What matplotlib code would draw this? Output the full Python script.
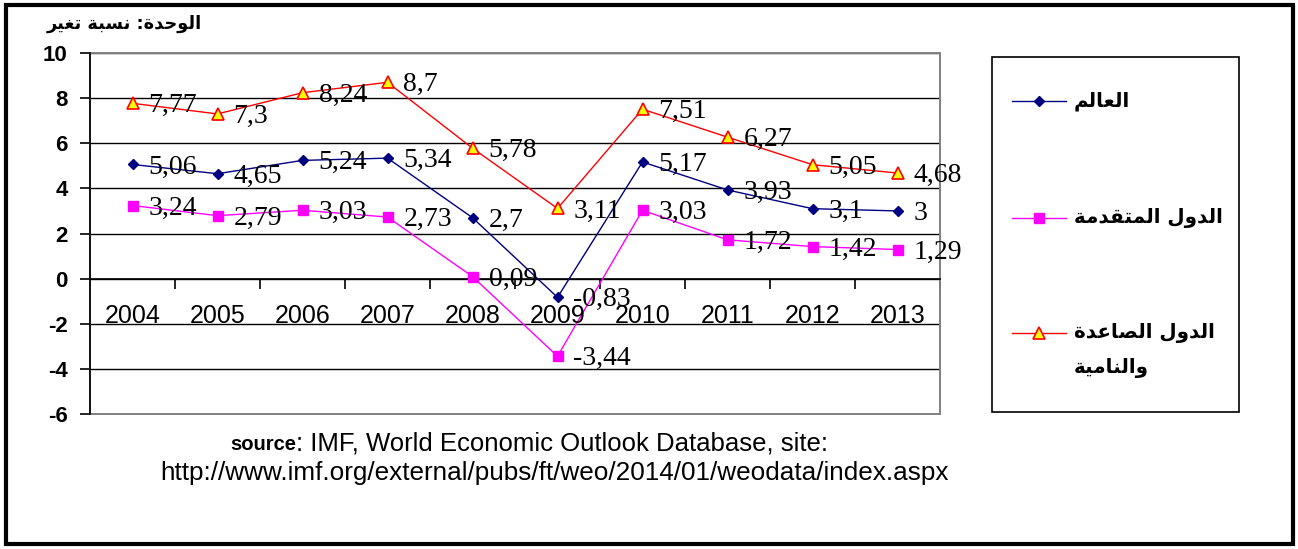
import numpy as np
import matplotlib
matplotlib.use("Agg")
import matplotlib.pyplot as plt
from matplotlib.patches import Rectangle
from matplotlib.lines import Line2D

# ---- data -------------------------------------------------------------
years = ["2004", "2005", "2006", "2007", "2008", "2009", "2010", "2011", "2012", "2013"]
world = [5.06, 4.65, 5.24, 5.34, 2.7, -0.83, 5.17, 3.93, 3.1, 3]
advanced = [3.24, 2.79, 3.03, 2.73, 0.09, -3.44, 3.03, 1.72, 1.42, 1.29]
emerging = [7.77, 7.3, 8.24, 8.7, 5.78, 3.11, 7.51, 6.27, 5.05, 4.68]

series_names = ["العالم", "الدول المتقدمة", "الدول الصاعدة\nوالنامية"]
unit_label = "الوحدة: نسبة تغير"
source_bold = "source"
source_rest = ": IMF, World Economic Outlook Database, site:"
source_url = "http://www.imf.org/external/pubs/ft/weo/2014/01/weodata/index.aspx"
y_ticks = [-6, -4, -2, 0, 2, 4, 6, 8, 10]

# ---- Arabic shaping (presentation forms, visual order) -------------------
_FORMS = {
    "\u0627": (0xFE8D, 0xFE8E, None, None),
    "\u0628": (0xFE8F, 0xFE90, 0xFE91, 0xFE92),
    "\u0629": (0xFE93, 0xFE94, None, None),
    "\u062A": (0xFE95, 0xFE96, 0xFE97, 0xFE98),
    "\u062D": (0xFEA1, 0xFEA2, 0xFEA3, 0xFEA4),
    "\u062F": (0xFEA9, 0xFEAA, None, None),
    "\u0631": (0xFEAD, 0xFEAE, None, None),
    "\u0633": (0xFEB1, 0xFEB2, 0xFEB3, 0xFEB4),
    "\u0635": (0xFEB9, 0xFEBA, 0xFEBB, 0xFEBC),
    "\u0639": (0xFEC9, 0xFECA, 0xFECB, 0xFECC),
    "\u063A": (0xFECD, 0xFECE, 0xFECF, 0xFED0),
    "\u0642": (0xFED5, 0xFED6, 0xFED7, 0xFED8),
    "\u0644": (0xFEDD, 0xFEDE, 0xFEDF, 0xFEE0),
    "\u0645": (0xFEE1, 0xFEE2, 0xFEE3, 0xFEE4),
    "\u0646": (0xFEE5, 0xFEE6, 0xFEE7, 0xFEE8),
    "\u0648": (0xFEED, 0xFEEE, None, None),
    "\u064A": (0xFEF1, 0xFEF2, 0xFEF3, 0xFEF4),
}


def _shape_line(s):
    out = []
    i = 0
    while i < len(s):
        c = s[i]
        if c not in _FORMS:
            out.append(c)
            i += 1
            continue
        prev = s[i - 1] if i > 0 else None
        joins_prev = prev in _FORMS and _FORMS[prev][2] is not None
        if c == "\u0644" and i + 1 < len(s) and s[i + 1] == "\u0627":
            out.append(chr(0xFEFC if joins_prev else 0xFEFB))
            i += 2
            continue
        nxt = s[i + 1] if i + 1 < len(s) else None
        iso, fin, ini, med = _FORMS[c]
        joins_next = ini is not None and nxt in _FORMS
        if joins_prev and joins_next:
            g = med
        elif joins_prev:
            g = fin
        elif joins_next:
            g = ini
        else:
            g = iso
        out.append(chr(g))
        i += 1
    return "".join(reversed(out))


def shape(text):
    return "\n".join(_shape_line(line) for line in text.split("\n"))


def fmt(v):
    return f"{v:g}".replace(".", ",")


# ---- figure -------------------------------------------------------------
W, H = 1298, 549
fig = plt.figure(figsize=(W / 100, H / 100), dpi=100)
fig.patch.set_facecolor("white")

ax = fig.add_axes([90 / W, 1 - 414 / H, 850 / W, (414 - 53) / H])
x = np.arange(len(years))

styles = [
    dict(color="#000080", lw=1.0, marker="D", ms=5.5, mfc="#000080", mec="#000080"),
    dict(color="#FF00FF", lw=1.0, marker="s", ms=7.5, mfc="#FF00FF", mec="#FF00FF"),
    dict(color="#FF0000", lw=1.0, marker="^", ms=8.5, mfc="#FFFF00", mec="#FF0000", mew=1.2),
]

for vals, st in zip([world, advanced, emerging], styles):
    ax.plot(x, vals, zorder=4, **st)
    for xi, v in zip(x, vals):
        ax.annotate(fmt(v), (xi, v), xytext=(16, -9), textcoords="offset pixels",
                    ha="left", va="baseline", fontsize=20,
                    family="Liberation Serif", zorder=5)

ax.set_xlim(-0.5, len(years) - 0.5)
ax.set_ylim(-6, 10)
ax.set_yticks(y_ticks)
ax.set_yticklabels([str(t) for t in y_ticks])
ax.tick_params(axis="y", direction="out", length=7, width=1.2, pad=9,
               labelsize=16, colors="black")
for lab in ax.get_yticklabels():
    lab.set_fontweight("bold")
    lab.set_family("Liberation Sans")

ax.set_xticks(np.arange(0.5, len(years), 1))
ax.tick_params(axis="x", direction="out", length=7, width=1.2, labelbottom=False)
ax.spines["bottom"].set_position(("data", 0))
ax.spines["bottom"].set_color("black")
ax.spines["bottom"].set_linewidth(1.2)
ax.spines["left"].set_color("black")
ax.spines["left"].set_linewidth(1.2)
ax.spines["top"].set_visible(False)
ax.spines["right"].set_visible(False)

ax.set_axisbelow(True)
ax.yaxis.grid(True, color="black", lw=1.0)
ax.add_patch(Rectangle((0, 0), 1, 1, transform=ax.transAxes, fill=False,
                       ec="#808080", lw=1.4, zorder=2, clip_on=False))

for xi, yr in zip(x, years):
    ax.text(xi, -1.97, yr, ha="center", va="baseline", fontsize=18,
            family="Liberation Sans", zorder=5)

# ---- overlay for frame, legend and captions ----------------------------
ov = fig.add_axes([0, 0, 1, 1])
ov.set_xlim(0, W)
ov.set_ylim(H, 0)
ov.axis("off")
ov.patch.set_alpha(0)

ov.add_patch(Rectangle((5.5, 5), W - 11, H - 10.5, fill=False, ec="black",
                       lw=3.0, clip_on=False))

# legend box
ov.add_patch(Rectangle((992, 57), 247, 355, fill=False, ec="black", lw=1.2))
legend_rows = [101, 218, 333]
for name, st, ly in zip(series_names, styles, legend_rows):
    ov.add_line(Line2D([1012, 1039, 1066], [ly, ly, ly], markevery=[1], **st))
    for k, line in enumerate(shape(name).split("\n")):
        ov.text(1074, ly + k * 35, line, ha="left", va="center",
                fontsize=14.3, fontweight="bold", family="DejaVu Sans")

# unit caption
ov.text(47, 24, shape(unit_label), ha="left", va="center", fontsize=12.8,
        fontweight="bold", family="DejaVu Sans")

# source lines
t1 = ov.text(230, 450, source_bold, ha="left", va="baseline", fontsize=14.5,
             fontweight="bold", family="Liberation Sans")
fig.canvas.draw()
bb = t1.get_window_extent(renderer=fig.canvas.get_renderer())
ov.text(bb.x1, 450, source_rest, ha="left", va="baseline", fontsize=18.5,
        family="Liberation Sans")
ov.text(160, 480, source_url, ha="left", va="baseline", fontsize=18.8,
        family="Liberation Sans")

fig.savefig("out.png", dpi=100)
